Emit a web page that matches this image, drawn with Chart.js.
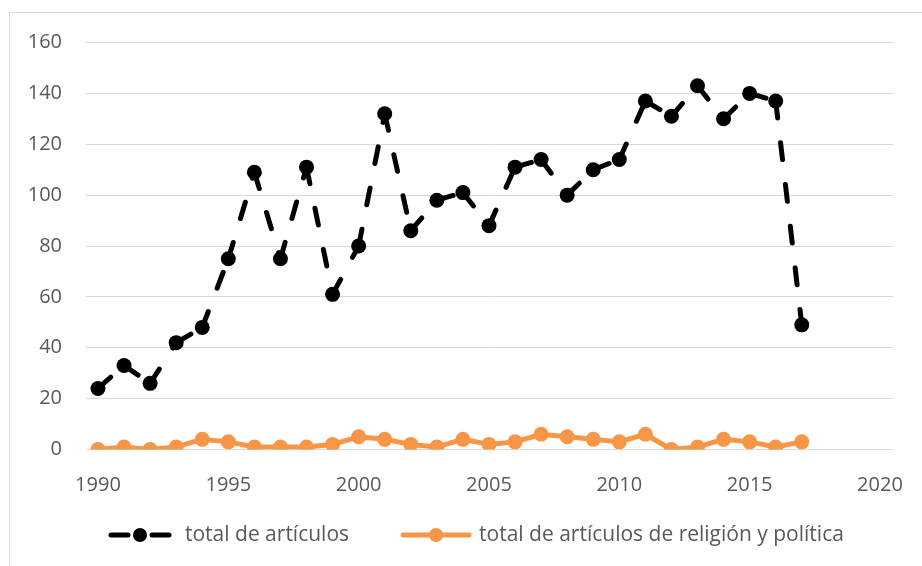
<!DOCTYPE html>
<html>
<head>
<meta charset="utf-8">
<script src="https://cdn.jsdelivr.net/npm/chart.js@4"></script>
<style>
  html, body { margin: 0; padding: 0; background: #fff; }
  #wrap { position: relative; width: 922px; height: 566px; overflow: hidden; }
  #frame { position: absolute; left: 9px; top: 12px; width: 940px; height: 600px; border: 1px solid #d9d9d9; }
  canvas { position: absolute; left: 0; top: 0; }
</style>
</head>
<body>
<div id="wrap">
  <div id="frame"></div>
  <canvas id="chart" width="922" height="566"></canvas>
</div>
<script>
// Data
const years = [1990, 1991, 1992, 1993, 1994, 1995, 1996, 1997, 1998, 1999,
               2000, 2001, 2002, 2003, 2004, 2005, 2006, 2007, 2008, 2009,
               2010, 2011, 2012, 2013, 2014, 2015, 2016, 2017];
const totalArticulos = [24, 33, 26, 42, 48, 75, 109, 75, 111, 61,
                        80, 132, 86, 98, 101, 88, 111, 114, 100, 110,
                        114, 137, 131, 143, 130, 140, 137, 49];
const religionPolitica = [0, 1, 0, 1, 4, 3, 1, 1, 1, 2,
                          5, 4, 2, 1, 4, 2, 3, 6, 5, 4,
                          3, 6, 0, 1, 4, 3, 1, 3];
const xTicks = [1990, 1995, 2000, 2005, 2010, 2015, 2020];
const yTicks = [0, 20, 40, 60, 80, 100, 120, 140, 160];
const seriesNames = ['total de artículos', 'total de artículos de religión y política'];

const BLACK = '#000000';
const ORANGE = '#F79646';
const TEXT = '#595959';
const GRID = '#d9d9d9';
const FONT = 'Open Sans';

const toPoints = vals => years.map((yr, i) => ({ x: yr, y: vals[i] }));

// Legend below the axis: line sample with a marker, then the series name
const bottomLegend = {
    id: 'bottomLegend',
    afterDraw(chart) {
        const ctx = chart.ctx;
        const y = 535;
        let x = 108;
        ctx.save();
        ctx.font = '21px "' + FONT + '"';
        ctx.textBaseline = 'middle';
        ctx.fillStyle = TEXT;
        chart.data.datasets.forEach((ds, i) => {
            const w = i === 0 ? 64 : 72;
            ctx.strokeStyle = ds.borderColor;
            ctx.lineWidth = 5;
            ctx.lineCap = 'round';
            if (ds.borderDash) {
                ctx.beginPath(); ctx.moveTo(x + 3, y); ctx.lineTo(x + 20, y); ctx.stroke();
                ctx.beginPath(); ctx.moveTo(x + w - 20, y); ctx.lineTo(x + w - 3, y); ctx.stroke();
            } else {
                ctx.beginPath(); ctx.moveTo(x + 3, y); ctx.lineTo(x + w - 3, y); ctx.stroke();
            }
            ctx.fillStyle = ds.pointBackgroundColor;
            ctx.beginPath(); ctx.arc(x + w / 2, y, 7, 0, Math.PI * 2); ctx.fill();
            ctx.fillStyle = TEXT;
            const tx = x + w + (i === 0 ? 13 : 7);
            ctx.fillText(ds.label, tx, y);
            x = tx + ctx.measureText(ds.label).width + 51;
        });
        ctx.restore();
    }
};

new Chart(document.getElementById('chart'), {
    type: 'line',
    data: {
        datasets: [{
            label: seriesNames[0],
            data: toPoints(totalArticulos),
            borderColor: BLACK,
            backgroundColor: BLACK,
            borderWidth: 5,
            borderDash: [17, 25],
            borderCapStyle: 'round',
            pointRadius: 7.5,
            pointBorderWidth: 0,
            pointBackgroundColor: BLACK,
            // split each segment so the dash restarts at every point
            segment: { borderDashOffset: ctx => (ctx.p0DataIndex % 2 ? 0 : 0.0001) },
            tension: 0,
            order: 1
        }, {
            label: seriesNames[1],
            data: toPoints(religionPolitica),
            borderColor: ORANGE,
            backgroundColor: ORANGE,
            borderWidth: 5,
            borderCapStyle: 'round',
            borderJoinStyle: 'round',
            pointRadius: 7.5,
            pointBorderWidth: 0,
            pointBackgroundColor: ORANGE,
            tension: 0,
            order: 2
        }]
    },
    plugins: [bottomLegend],
    options: {
        responsive: false,
        animation: false,
        layout: { padding: { left: 0, right: 29, top: 42.5, bottom: 56.5 } },
        scales: {
            x: {
                type: 'linear',
                min: 1989.54,
                max: 2020.5,
                grid: { display: false },
                border: { display: false },
                afterBuildTicks: s => { s.ticks = xTicks.map(v => ({ value: v })); },
                afterFit: s => { s.height = 60; },
                ticks: {
                    autoSkip: false,
                    maxRotation: 0,
                    padding: 16,
                    color: TEXT,
                    font: { family: FONT, size: 20 },
                    callback: v => String(v)
                }
            },
            y: {
                min: 0,
                max: 160,
                afterFit: s => { s.width = 86; },
                afterBuildTicks: s => { s.ticks = yTicks.map(v => ({ value: v })); },
                grid: { color: GRID, lineWidth: 1, drawTicks: false },
                border: { display: false },
                ticks: {
                    padding: 24,
                    color: TEXT,
                    font: { family: FONT, size: 20 },
                    callback: v => String(v)
                }
            }
        },
        plugins: {
            tooltip: { enabled: false },
            legend: { display: false }
        }
    }
});
</script>
</body>
</html>
